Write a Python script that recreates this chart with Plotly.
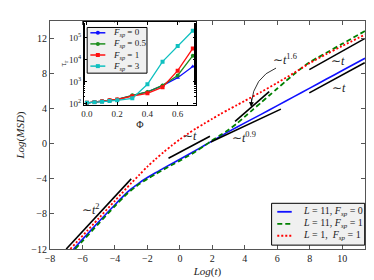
import plotly.graph_objects as go

# ---------------- main panel data (Log t, Log MSD) ----------------
blue_logt = [-6.55, -6, -5, -4, -3.5, -3.25, -3, -2.75, -2.5, -2, -1.5, -1, -0.5, 0, 0.5, 1, 1.5, 2, 3, 4, 5, 6, 7, 8, 9, 10, 11.4]
blue_logmsd = [-12, -10.9, -8.9, -6.95, -6.0, -5.55, -5.15, -4.8, -4.45, -3.85, -3.3, -2.78, -2.27, -1.77, -1.25, -0.73, -0.2, 0.33, 1.38, 2.38, 3.35, 4.35, 5.35, 6.35, 7.35, 8.35, 9.75]

green_logt = [-6.45, -6, -5, -4, -3.5, -3.25, -3, -2.75, -2.5, -2, -1.5, -1, -0.5, 0, 0.5, 1, 1.5, 2, 2.5, 3, 3.5, 4, 4.5, 5, 5.5, 6, 6.5, 7, 7.5, 8, 8.5, 9, 10, 11.4]
green_logmsd = [-12, -11.1, -9.1, -7.1, -6.15, -5.7, -5.3, -4.95, -4.6, -4.0, -3.45, -2.93, -2.42, -1.92, -1.4, -0.85, -0.25, 0.4, 1.0, 1.6, 2.3, 3.1, 3.9, 4.7, 5.5, 6.3, 7.1, 7.9, 8.65, 9.3, 9.85, 10.35, 11.4, 12.85]

red_logt = [-6.75, -5, -4, -3, -2.5, -2, -1.5, -1, -0.5, 0, 0.5, 1, 1.5, 2, 2.5, 3, 3.5, 4, 5, 6, 7, 8, 9, 10, 11.4]
red_logmsd = [-12, -8.5, -6.5, -4.5, -3.55, -2.6, -1.75, -0.95, -0.2, 0.5, 1.15, 1.75, 2.3, 2.85, 3.4, 3.9, 4.4, 4.9, 5.9, 6.95, 8.05, 9.2, 10.2, 11.15, 12.45]

series_names = ["<i>L</i> = 11, <i>F<sub>sp</sub></i> = 0",
                "<i>L</i> = 11, <i>F<sub>sp</sub></i> = 1",
                "<i>L</i> = 1,  <i>F<sub>sp</sub></i> = 1"]

# guide lines (power-law slopes): [x0, x1], [y0, y1]
guide_t2_x, guide_t2_y = [-7, -3], [-12, -4]
guide_t1a_x, guide_t1a_y = [-0.7, 1.85], [-1.65, 0.85]
guide_t09_x, guide_t09_y = [1.9, 6.22], [0.2, 3.95]
guide_t16_x, guide_t16_y = [3.4, 5.5], [2.55, 5.95]
guide_t1b_x, guide_t1b_y = [7.97, 11.38], [8.45, 11.99]
guide_t1c_x, guide_t1c_y = [7.97, 11.38], [5.8, 9.25]

# ---------------- inset data ----------------
phi = [0.0, 0.05, 0.1, 0.15, 0.2, 0.3, 0.4, 0.5, 0.6, 0.7]
tau_f0 = [107, 115, 126, 138, 151, 224, 339, 646, 1480, 4790]
tau_f05 = [107, 115, 126, 138, 151, 234, 331, 661, 1860, 14800]
tau_f1 = [107, 115, 126, 138, 151, 214, 288, 550, 3090, 31600]
tau_f3 = [107, 112, 120, 129, 138, 170, 741, 7940, 40700, 199500]
inset_names = ["<i>F<sub>sp</sub></i> = 0", "<i>F<sub>sp</sub></i> = 0.5",
               "<i>F<sub>sp</sub></i> = 1", "<i>F<sub>sp</sub></i> = 3"]

FONT = "Liberation Serif"
W, H = 374, 280
ML, MR, MT, MB = 41, 17, 12, 32
PW, PH = W - ML - MR, H - MT - MB


def px2paper(px, py):
    return (px - ML) / PW, (H - MB - py) / PH


fig = go.Figure()

# main curves
fig.add_trace(go.Scatter(x=blue_logt, y=blue_logmsd, mode="lines",
                         line=dict(color="#1010ff", width=1.6, shape="spline", smoothing=0.8),
                         showlegend=False))
fig.add_trace(go.Scatter(x=green_logt, y=green_logmsd, mode="lines",
                         line=dict(color="#008000", width=1.8, dash="5px,3px", shape="spline", smoothing=0.8),
                         showlegend=False))
fig.add_trace(go.Scatter(x=red_logt, y=red_logmsd, mode="lines",
                         line=dict(color="#ff0000", width=1.8, dash="2px,2px", shape="spline", smoothing=0.8),
                         showlegend=False))

for gx, gy in [(guide_t2_x, guide_t2_y), (guide_t1a_x, guide_t1a_y), (guide_t09_x, guide_t09_y),
               (guide_t16_x, guide_t16_y), (guide_t1b_x, guide_t1b_y), (guide_t1c_x, guide_t1c_y)]:
    fig.add_trace(go.Scatter(x=gx, y=gy, mode="lines", line=dict(color="black", width=1.6),
                             showlegend=False))

# inset curves
inset_cols = ["#1010ff", "#1f8f1f", "#ff1010", "#10c0c0"]
inset_syms = ["triangle-up", "circle", "square", "square"]
for tau, col, sym in zip([tau_f0, tau_f05, tau_f1, tau_f3], inset_cols, inset_syms):
    fig.add_trace(go.Scatter(x=phi, y=tau, mode="lines+markers", xaxis="x2", yaxis="y2",
                             line=dict(color=col, width=1.3),
                             marker=dict(color=col, size=4, symbol=sym),
                             showlegend=False))

# ---------------- layout ----------------
x0p, y1p = px2paper(75, 13.5)
x1p, y0p = px2paper(187.3, 98.7)

axis_common = dict(showgrid=False, zeroline=False, showline=True, mirror="allticks",
                   ticks="inside", tickfont=dict(family=FONT, size=10, color="#222"))

fig.update_layout(
    width=W, height=H, margin=dict(l=ML, r=MR, t=MT, b=MB),
    paper_bgcolor="white", plot_bgcolor="white",
    font=dict(family=FONT, color="#222"),
    xaxis=dict(range=[-8, 11.4], tickvals=list(range(-8, 11, 2)), ticklen=4,
               linecolor="#555", linewidth=1, tickcolor="#555",
               title=dict(text="<i>Log</i>(<i>t</i>)", font=dict(family=FONT, size=11), standoff=4),
               **axis_common),
    yaxis=dict(range=[-12, 14], tickvals=list(range(-12, 13, 4)), ticklen=4,
               linecolor="#555", linewidth=1, tickcolor="#555",
               title=dict(text="<i>Log</i>(<i>MSD</i>)", font=dict(family=FONT, size=11), standoff=4),
               **axis_common),
    xaxis2=dict(domain=[x0p, x1p], anchor="y2", range=[-0.02, 0.72],
                tickvals=[0.0, 0.2, 0.4, 0.6], ticktext=["0.0", "0.2", "0.4", "0.6"], ticklen=3,
                linecolor="black", linewidth=1, tickcolor="black",
                title=dict(text="Φ", font=dict(family=FONT, size=10), standoff=2),
                **{**axis_common, "tickfont": dict(family=FONT, size=9, color="#222")}),
    yaxis2=dict(domain=[y0p, y1p], anchor="x2", type="log", range=[1.94, 5.68],
                tickvals=[1e2, 1e3, 1e4, 1e5],
                ticktext=["10<sup>2</sup>", "10<sup>3</sup>", "10<sup>4</sup>", "10<sup>5</sup>"],
                ticklen=3, linecolor="black", linewidth=1, tickcolor="black",
                minor=dict(ticks="inside", ticklen=1.5, tickcolor="black"),
                title=dict(text="τ<sub>r</sub>", font=dict(family=FONT, size=9), standoff=0),
                **{**axis_common, "tickfont": dict(family=FONT, size=9, color="#222")}),
)

shapes = []
annots = []

# white background of inset
shapes.append(dict(type="rect", xref="paper", yref="paper", x0=x0p, x1=x1p, y0=y0p, y1=y1p,
                   fillcolor="white", line=dict(width=0), layer="below"))

# curved arrow towards the t^1.6 guide
shapes.append(dict(type="path", xref="x", yref="y",
                   path="M 5.92,8.63 Q 4.55,7.6 4.39,4.6",
                   line=dict(color="black", width=0.8)))
annots.append(dict(x=4.39, y=4.2, xref="x", yref="y", ax=0.5, ay=-10, text="",
                   showarrow=True, arrowhead=2, arrowsize=1.2, arrowwidth=0.8, arrowcolor="black"))

# slope labels
labels = [(-5.45, -7.5, "∼<i>t</i><sup>2</sup>"),
          (0.6, 0.9, "∼<i>t</i>"),
          (3.97, 0.75, "∼<i>t</i><sup>0.9</sup>"),
          (6.5, 9.6, "∼<i>t</i><sup>1.6</sup>"),
          (9.76, 9.4, "∼<i>t</i>"),
          (9.79, 6.4, "∼<i>t</i>")]
for lx, ly, lt in labels:
    annots.append(dict(x=lx, y=ly, xref="x", yref="y", text=lt, showarrow=False,
                       font=dict(family=FONT, size=12, color="#222")))

# main legend (drawn manually)
lx0, ly1 = px2paper(263.3, 200.7)
lx1, ly0 = px2paper(356.7, 244)
shapes.append(dict(type="rect", xref="paper", yref="paper", x0=lx0, x1=lx1, y0=ly0, y1=ly1,
                   fillcolor="#f0f0f0", line=dict(color="black", width=1)))
main_styles = [dict(color="#1010ff", width=1.8), dict(color="#008000", width=1.8, dash="5px,3px"),
               dict(color="#ff0000", width=1.8, dash="2px,2px")]
for i, (name, st) in enumerate(zip(series_names, main_styles)):
    py = 209.5 + i * 12.4
    a0, b0 = px2paper(269, py)
    a1, _ = px2paper(283.5, py)
    shapes.append(dict(type="line", xref="paper", yref="paper", x0=a0, x1=a1, y0=b0, y1=b0, line=st))
    tx, _ = px2paper(293, py)
    annots.append(dict(x=tx, y=b0, xref="paper", yref="paper", text=name, showarrow=False,
                       xanchor="left", yanchor="middle", font=dict(family=FONT, size=10, color="#222")))

# inset legend (drawn manually)
ix0, iy1 = px2paper(78.3, 18.7)
ix1, iy0 = px2paper(138.3, 66)
shapes.append(dict(type="rect", xref="paper", yref="paper", x0=ix0, x1=ix1, y0=iy0, y1=iy1,
                   fillcolor="#f0f0f0", line=dict(color="black", width=1)))
for i, (name, col, sym) in enumerate(zip(inset_names, inset_cols, inset_syms)):
    py = 24.2 + i * 11.5
    a0, b0 = px2paper(81.5, py)
    a1, _ = px2paper(96.5, py)
    am, _ = px2paper(89, py)
    shapes.append(dict(type="line", xref="paper", yref="paper", x0=a0, x1=a1, y0=b0, y1=b0,
                       line=dict(color=col, width=1.5)))
    shapes.append(dict(type="circle" if sym != "square" else "rect", xref="paper", yref="paper",
                       xsizemode="pixel", ysizemode="pixel", xanchor=am, yanchor=b0,
                       x0=-2, x1=2, y0=-2, y1=2, fillcolor=col, line=dict(width=0)))
    tx, _ = px2paper(102, py)
    annots.append(dict(x=tx, y=b0, xref="paper", yref="paper", text=name, showarrow=False,
                       xanchor="left", yanchor="middle", font=dict(family=FONT, size=9, color="#222")))

fig.update_layout(shapes=shapes, annotations=annots)
fig.write_html("out.html")
